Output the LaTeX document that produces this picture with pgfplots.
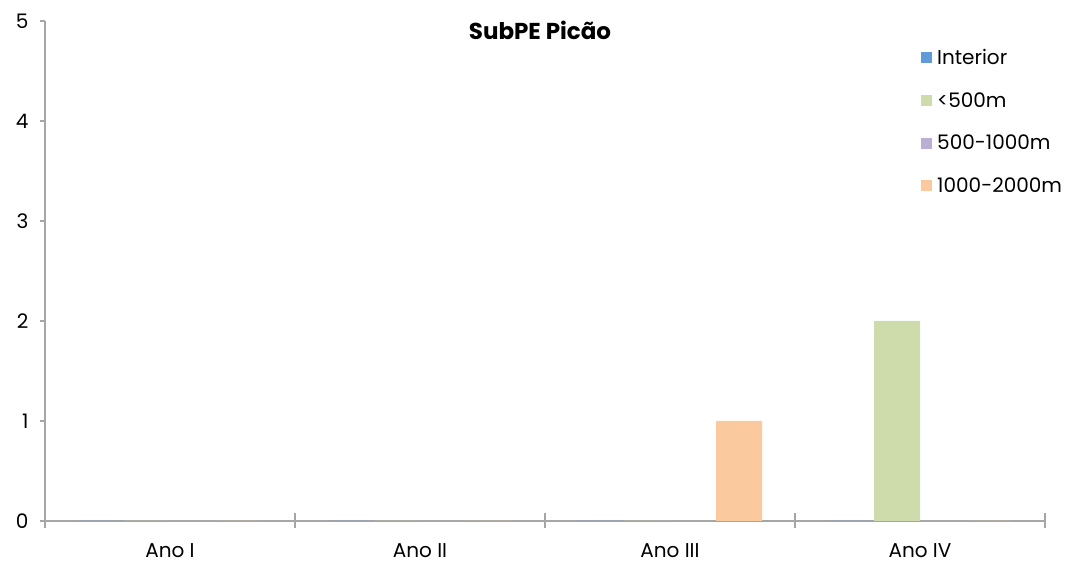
\documentclass[border=0pt]{standalone}
\usepackage{pgfplots}
\pgfplotsset{compat=1.18}
\usepackage{fontspec}
\setmainfont{Poppins}
\definecolor{cInt}{RGB}{98,153,216}
\definecolor{cLt}{RGB}{206,220,171}
\definecolor{cMid}{RGB}{188,174,212}
\definecolor{cHi}{RGB}{250,201,158}
\definecolor{axgray}{RGB}{166,166,166}
\begin{document}
\begin{tikzpicture}[x=1pt,y=1pt]
\useasboundingbox (-45,-44) rectangle (1024,521);
\begin{axis}[at={(0,0)}, anchor=south west, scale only axis,
  width=1000pt, height=500pt,
  ymin=0, ymax=5, xmin=-0.5, xmax=3.5,
  ytick={0,1,2,3,4,5},
  xtick={0,1,2,3}, xticklabels={Ano I,Ano II,Ano III,Ano IV},
  minor xtick={-0.5,0.5,1.5,2.5,3.5},
  axis lines*=left,
  axis line style={draw=axgray, line width=1.5pt},
  tick align=outside, major tick length=5pt, minor tick length=15pt,
  tick style={draw=axgray, line width=1.5pt},
  major x tick style={draw=none},
  minor x tick style={yshift=7.5pt},
  /pgf/number format/assume math mode=true,
  tick label style={font=\fontsize{20}{24}\selectfont},
  yticklabel style={xshift=-8pt},
  xticklabel style={yshift=-14pt},
  ybar, bar width=0.184,
  legend style={at={(rel axis cs:0.876,0.948)}, anchor=north west, draw=none, fill=none,
    font=\fontsize{20}{24}\selectfont, row sep=22.5pt, inner sep=0pt},
  legend cell align=left,
  legend image code/.code={\path[#1,draw=none] (0pt,-5.5pt) rectangle (11pt,5.5pt); \path (14pt,0pt);},
]
\addplot[fill=cInt, draw=none, bar shift=-0.276] coordinates {(0,0) (1,0) (2,0) (3,0)};
\addplot[fill=cLt, draw=none, bar shift=-0.092] coordinates {(0,0) (1,0) (2,0) (3,2)};
\addplot[fill=cMid, draw=none, bar shift=0.092] coordinates {(0,0) (1,0) (2,0) (3,0)};
\addplot[fill=cHi, draw=none, bar shift=0.276] coordinates {(0,0) (1,0) (2,1) (3,0)};
\legend{Interior,{<500m},500-1000m,1000-2000m}
\end{axis}
\node[font=\bfseries\fontsize{23}{27}\selectfont] at (495,491) {SubPE Picão};
\end{tikzpicture}
\end{document}
